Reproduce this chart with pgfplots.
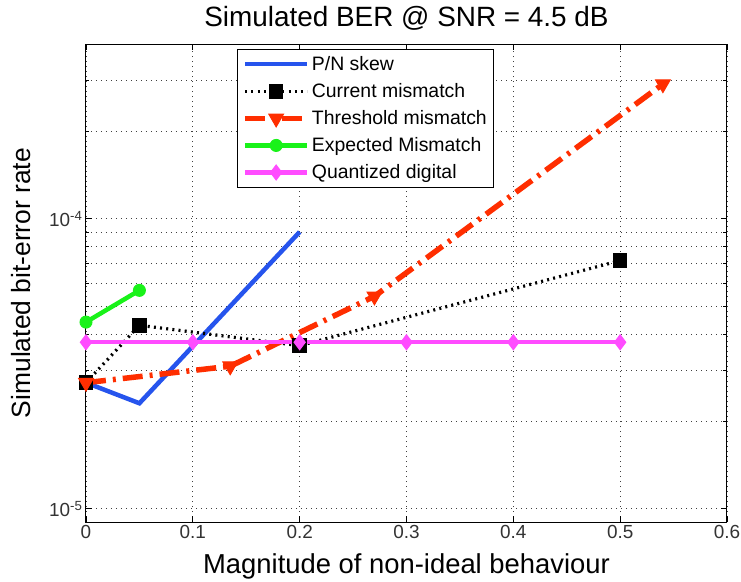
\documentclass[border=0pt]{standalone}
\usepackage{pgfplots}
\pgfplotsset{compat=1.18}
\usepackage{fontspec}
\setmainfont{Liberation Sans}

\definecolor{pnblue}{rgb}{0.15,0.33,0.93}
\definecolor{thred}{rgb}{1.0,0.18,0.0}
\definecolor{expgreen}{rgb}{0.1,0.95,0.1}
\definecolor{qmag}{rgb}{1.0,0.3,1.0}

\begin{document}
\begin{tikzpicture}
\begin{axis}[
  scale only axis,
  width=641bp, height=478bp,
  xmin=0, xmax=0.6,
  ymode=log, ymin=9e-6, ymax=4e-4,
  xtick={0,0.1,0.2,0.3,0.4,0.5,0.6},
  xticklabels={0,0.1,0.2,0.3,0.4,0.5,0.6},
  ytick={1e-5,1e-4},
  yticklabels={10\textsuperscript{-5},10\textsuperscript{-4}},
  minor ytick={2e-5,3e-5,4e-5,5e-5,6e-5,7e-5,8e-5,9e-5,2e-4,3e-4,4e-4},
  /pgf/number format/assume math mode=true,
  tick label style={font=\fontsize{19}{22}\selectfont, text=black!80},
  xmajorgrids, ymajorgrids, yminorgrids,
  major grid style={black!75, line width=0.8bp, dash pattern=on 1bp off 4bp},
  minor grid style={black!75, line width=0.8bp, dash pattern=on 1bp off 4bp},
  tick style={black, line width=0.8bp},
  major tick length=6bp, minor tick length=3.5bp,
  axis line style={black, line width=1bp},
  title={Simulated BER @ SNR = 4.5 dB},
  every axis title/.style={at={(axis description cs:0.5,1.0356)}, anchor=base,
    font=\fontsize{28}{33}\selectfont},
  xlabel={Magnitude of non-ideal behaviour},
  every axis x label/.style={at={(axis description cs:0.5,-0.1067)}, anchor=base,
    font=\fontsize{27.5}{32}\selectfont},
  ylabel={Simulated bit-error rate},
  every axis y label/.style={at={(axis description cs:-0.1014,0.5)}, anchor=center,
    rotate=90, font=\fontsize{26.5}{31}\selectfont},
  legend image code/.code={%
    \draw[mark repeat=2,mark phase=2]
      plot coordinates {(0bp,0bp) (31bp,0bp) (62bp,0bp)};},
  legend cell align=left,
  legend style={at={(axis description cs:0.2356,0.9895)}, anchor=north west,
    draw=black, line width=0.8bp, fill=white,
    font=\fontsize{19.5}{22}\selectfont,
    inner xsep=5bp, inner ysep=5bp,
    row sep=7.5bp,
    nodes={inner sep=2bp}},
]
% P/N skew
\addplot[pnblue, line width=4.5bp, no marks] coordinates {
  (0,2.72e-5) (0.05,2.31e-5) (0.2,9.0e-5)
};
\addlegendentry{P/N skew}
% Current mismatch
\addplot[black, line width=3.2bp, dash pattern=on 2bp off 4.2bp,
  mark=square*, mark size=6.5bp,
  mark options={solid, fill=black, line width=1.5bp}] coordinates {
  (0,2.72e-5) (0.05,4.29e-5) (0.2,3.65e-5) (0.5,7.17e-5)
};
\addlegendentry{Current mismatch}
% Threshold mismatch
\addplot[thred, line width=5.5bp, dash pattern=on 20bp off 7bp on 3bp off 7bp,
  mark=triangle*, mark size=8.5bp,
  mark options={solid, rotate=180, fill=thred, line width=1bp}] coordinates {
  (0,2.72e-5) (0.135,3.1e-5) (0.27,5.4e-5) (0.54,2.91e-4)
};
\addlegendentry{Threshold mismatch}
% Expected mismatch
\addplot[expgreen, line width=4.5bp,
  mark=*, mark size=6bp,
  mark options={solid, fill=expgreen, line width=1bp}] coordinates {
  (0,4.4e-5) (0.05,5.66e-5)
};
\addlegendentry{Expected Mismatch}
% Quantized digital
\addplot[qmag, line width=4.5bp,
  mark=diamond*, mark size=7.5bp,
  mark options={solid, fill=qmag, line width=1bp}] coordinates {
  (0,3.75e-5) (0.1,3.75e-5) (0.2,3.75e-5) (0.3,3.75e-5) (0.4,3.75e-5) (0.5,3.75e-5)
};
\addlegendentry{Quantized digital}
\end{axis}
\pgfresetboundingbox
\path[use as bounding box] (-86bp,-60bp) rectangle (655bp,522bp);
\end{tikzpicture}
\end{document}
